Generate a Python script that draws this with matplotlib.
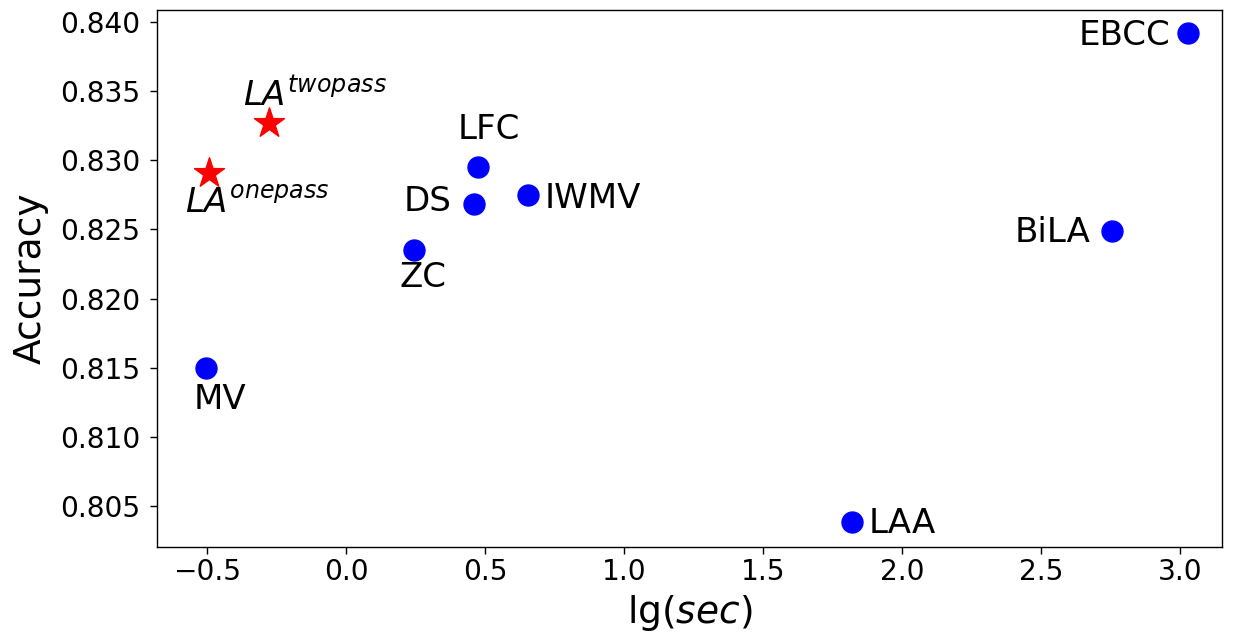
import matplotlib
matplotlib.use('Agg')
import matplotlib.pyplot as plt

####################################################################################

FIGURE_XSIZE = 12.36
FIGURE_YSIZE = 6.34
DPI = 100

TICK_FONTSIZE = 20.2
LABEL_FONTSIZE = 27
NAME_FONTSIZE = 24.5

# baseline methods (blue dots)
methods = ['EBCC', 'BiLA', 'LAA', 'IWMV', 'LFC', 'DS', 'ZC', 'MV']
method_time = [3.026, 2.755, 1.818, 0.654, 0.474, 0.459, 0.244, -0.505]
method_acc = [0.83918, 0.82489, 0.80387, 0.82749, 0.82954, 0.82684, 0.82351, 0.8150]

# proposed methods (red stars)
ours = [r'$LA^{twopass}$', r'$LA^{onepass}$']
ours_time = [-0.277, -0.493]
ours_acc = [0.83272, 0.82910]

# label placement: (dx, dy) in pixels, horizontal alignment
LABEL_OFFSETS = {
    'EBCC': (-17, -12, 'right'),
    'BiLA': (-22, -11, 'right'),
    'LAA': (17, -11, 'left'),
    'IWMV': (17, -13, 'left'),
    'LFC': (11, 28, 'center'),
    'DS': (-22, -7, 'right'),
    'ZC': (9, -37, 'center'),
    'MV': (14, -41, 'center'),
    r'$LA^{twopass}$': (-26, 16, 'left'),
    r'$LA^{onepass}$': (-24, -40, 'left'),
}

####################################################################################

def put_label(axes, name, x, y):
    dx, dy, ha = LABEL_OFFSETS[name]
    axes.annotate(name, (x, y), xytext=(dx, dy), textcoords='offset pixels',
                  ha=ha, va='baseline', fontsize=NAME_FONTSIZE)

figure = plt.figure(figsize=(FIGURE_XSIZE, FIGURE_YSIZE), dpi=DPI)
axes = figure.add_subplot(111)
figure.subplots_adjust(left=0.127, right=0.9887, top=0.9842, bottom=0.1372)

axes.scatter(method_time, method_acc, s=228, color='b', zorder=3)
axes.scatter(ours_time, ours_acc, s=515, color='r', marker='*', zorder=3)

for name, x, y in zip(methods, method_time, method_acc):
    put_label(axes, name, x, y)
for name, x, y in zip(ours, ours_time, ours_acc):
    put_label(axes, name, x, y)

axes.set_xlim(-0.681, 3.15)
axes.set_ylim(0.80204, 0.84087)
axes.set_xticks([-0.5, 0.0, 0.5, 1.0, 1.5, 2.0, 2.5, 3.0])
axes.set_yticks([0.805, 0.810, 0.815, 0.820, 0.825, 0.830, 0.835, 0.840])
axes.tick_params(labelsize=TICK_FONTSIZE, length=4.7, width=1.0)
axes.tick_params(axis='y', pad=7.5)
axes.tick_params(axis='x', pad=3.5)
for spine in axes.spines.values():
    spine.set_linewidth(1.0)

axes.set_xlabel(r'lg($sec$)', fontsize=LABEL_FONTSIZE, labelpad=5)
axes.set_ylabel('Accuracy', fontsize=LABEL_FONTSIZE, labelpad=8)

plt.savefig('out.png', dpi=DPI)
